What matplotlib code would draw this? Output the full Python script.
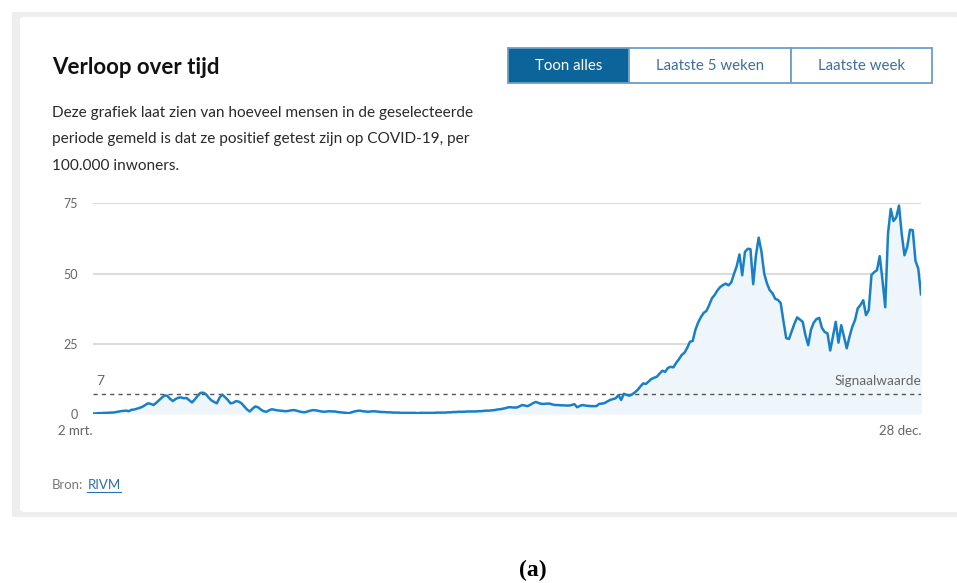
import numpy as np
import matplotlib
matplotlib.use("Agg")
import matplotlib.pyplot as plt
from matplotlib.patches import FancyBboxPatch, Rectangle
from matplotlib.lines import Line2D

W, H = 957, 583

# positief geteste mensen per 100.000 inwoners, per dag (2 mrt. t/m 28 dec.)
maart = [0.2, 0.2, 0.3, 0.3, 0.4, 0.4, 0.5, 0.5, 0.6, 0.8, 1.0, 1.1, 1.2, 1.0, 1.5,
         1.6, 1.9, 2.2, 2.6, 3.2, 3.8, 3.6, 3.2, 4.0, 4.9, 5.8, 6.6, 6.5, 5.4, 4.6]
april = [5.3, 5.8, 5.9, 5.6, 5.7, 4.9, 4.1, 5.2, 6.4, 7.5, 7.6, 7.1, 5.9, 4.9, 4.3,
         3.8, 5.8, 6.9, 6.0, 5.0, 3.8, 4.0, 4.6, 4.4, 3.8, 2.7, 1.6, 0.9, 1.9, 2.7]
mei = [2.4, 1.6, 1.0, 0.8, 1.3, 1.7, 1.5, 1.3, 1.2, 1.1, 1.0, 1.1, 1.3, 1.4, 1.2, 0.9,
       0.7, 0.6, 0.9, 1.2, 1.4, 1.3, 1.1, 0.9, 0.8, 0.9, 1.0, 0.9, 0.9, 0.7, 0.6]
juni = [0.5, 0.4, 0.3, 0.6, 0.9, 1.1, 1.2, 1.0, 0.9, 0.8, 0.9, 1.0, 0.9, 0.8, 0.7,
        0.7, 0.6, 0.6, 0.5, 0.5, 0.5, 0.4, 0.4, 0.4, 0.4, 0.4, 0.4, 0.3, 0.4, 0.4]
juli = [0.4, 0.4, 0.4, 0.4, 0.5, 0.5, 0.5, 0.5, 0.6, 0.6, 0.7, 0.7, 0.8, 0.8, 0.8, 0.9,
        0.9, 0.9, 0.9, 1.0, 1.0, 1.1, 1.2, 1.2, 1.3, 1.4, 1.6, 1.7, 1.9, 2.1, 2.4]
augustus = [2.4, 2.3, 2.3, 2.7, 3.2, 3.0, 2.8, 3.3, 3.9, 4.3, 3.9, 3.6, 3.6, 3.7, 3.7,
            3.4, 3.2, 3.2, 3.1, 3.1, 3.0, 3.0, 3.2, 3.5, 2.4, 2.9, 3.2, 3.0, 2.9, 2.8, 2.8]
september = [2.8, 3.6, 3.7, 3.9, 4.5, 5.0, 5.3, 5.6, 6.7, 5.0, 7.2, 6.8, 6.5, 7.0, 7.7,
             8.6, 9.8, 10.9, 10.7, 11.6, 12.5, 12.9, 13.3, 14.4, 15.4, 15.0, 16.4, 16.8, 16.6, 18.2]
oktober = [19.5, 21.0, 21.8, 23.5, 25.7, 26.0, 30.0, 32.6, 34.5, 36.0, 36.7, 38.8, 41.2,
           42.4, 44.0, 45.2, 45.9, 46.4, 45.8, 46.8, 49.8, 52.6, 56.8, 49.4, 57.7, 58.8,
           58.7, 46.2, 56.5, 62.8, 57.8]
november = [50.0, 46.5, 44.1, 43.0, 41.0, 40.6, 39.5, 33.0, 27.0, 26.7, 29.5, 32.2, 34.4,
            33.6, 32.8, 28.0, 24.5, 30.0, 32.5, 33.8, 34.2, 30.6, 29.2, 28.7, 22.6, 27.6,
            32.8, 25.4, 31.6, 27.5]
december = [23.4, 27.5, 31.0, 33.4, 37.6, 38.8, 40.5, 35.2, 37.0, 49.5, 50.5, 51.2, 56.2,
            47.6, 38.0, 64.2, 73.0, 68.7, 70.0, 74.2, 64.0, 56.5, 59.5, 65.6, 65.4, 54.5,
            51.8, 42.6]

waarden = maart + april + mei + juni + juli + augustus + september + oktober + november + december
dagen = np.arange(len(waarden))

y_ticks = [0, 25, 50, 75]
signaalwaarde = 7
x_labels = ["2 mrt.", "28 dec."]
knoppen = ["Toon alles", "Laatste 5 weken", "Laatste week"]
beschrijving = ["Deze grafiek laat zien van hoeveel mensen in de geselecteerde",
                "periode gemeld is dat ze positief getest zijn op COVID-19, per",
                "100.000 inwoners."]

plt.rcParams['font.family'] = ['Lato', 'DejaVu Sans']

fig = plt.figure(figsize=(W / 100, H / 100), dpi=100)


def fx(px):
    return px / W


def fy(py):
    return 1 - py / H


# kaart met schaduwrand
fig.patches.append(Rectangle((fx(12), fy(517)), fx(960) - fx(12), fy(12) - fy(517),
                             transform=fig.transFigure, fc="#eeeeee", ec="none", zorder=-2))
fig.patches.append(FancyBboxPatch((fx(20), fy(512)), fx(960) - fx(20), fy(17) - fy(512),
                                  boxstyle="round,pad=0,rounding_size=0.005",
                                  transform=fig.transFigure, fc="white", ec="none", zorder=-1))

fig.text(fx(52), fy(68), "Verloop over tijd", fontsize=16, fontweight="bold",
         color="#111111", va="center")
for i, regel in enumerate(beschrijving):
    fig.text(fx(52), fy(113 + i * 26.5), regel, fontsize=11.1, color="#2a2a2a", va="center")

# knoppen
grenzen = [508, 629, 791, 932]
for i, label in enumerate(knoppen):
    x0, x1 = grenzen[i], grenzen[i + 1]
    actief = i == 0
    fig.patches.append(Rectangle((fx(x0), fy(83)), fx(x1) - fx(x0), fy(48) - fy(83),
                                 transform=fig.transFigure,
                                 fc="#0b659a" if actief else "white",
                                 ec="#6b9fc7", lw=1.3, zorder=1))
    fig.text(fx((x0 + x1) / 2), fy(66), label, fontsize=10.8,
             color="white" if actief else "#3d6f9c", ha="center", va="center", zorder=2)

ax = fig.add_axes([fx(93), fy(414), fx(921) - fx(93), fy(203.3) - fy(414)])
ax.set_zorder(5)
ax.set_facecolor("none")
ax.set_xlim(0, len(waarden) - 1)
ax.set_ylim(0, 75)
for t in y_ticks:
    ax.axhline(t, color="#dcdcdc", lw=1.5, zorder=0)
ax.fill_between(dagen, waarden, color="#eef5fb", lw=0, zorder=1)
ax.plot(dagen, waarden, color="#1a80c6", lw=1.8, solid_joinstyle="round", zorder=3)
ax.axhline(signaalwaarde, color="#555555", lw=1, ls=(0, (3, 3)), zorder=2)

for s in ax.spines.values():
    s.set_visible(False)
ax.set_yticks(y_ticks)
ax.set_yticklabels([str(t) for t in y_ticks])
ax.set_xticks([0, len(waarden) - 1])
ax.set_xticklabels(x_labels)
for lab in ax.get_xticklabels():
    lab.set_horizontalalignment("right")
ax.tick_params(axis="y", length=0, pad=11, labelsize=9, labelcolor="#666666")
ax.tick_params(axis="x", length=0, pad=8, labelsize=9.5, labelcolor="#666666")
ax.get_xticklabels()[0].set_x(1.5)

ax.annotate(str(signaalwaarde), (0, signaalwaarde), xytext=(2, 5), textcoords="offset points",
            fontsize=10, color="#666666", ha="left", va="bottom")
ax.annotate("Signaalwaarde", (len(waarden) - 1, signaalwaarde), xytext=(0, 5),
            textcoords="offset points", fontsize=9.8, color="#666666", ha="right", va="bottom")

# bron
bron = fig.text(fx(52), fy(485), "Bron:", fontsize=9.5, color="#777777", va="center")
fig.canvas.draw()
bb = bron.get_window_extent()
rivm = fig.text((bb.x1 + 4) / W, fy(485), "RIVM", fontsize=9.5, color="#2f6fa6", va="center")
fig.canvas.draw()
rb = rivm.get_window_extent()
fig.lines.append(Line2D([rb.x0 / W, rb.x1 / W], [fy(492), fy(492)], transform=fig.transFigure,
                        color="#2f6fa6", lw=0.8))

fig.text(fx(533), fy(570), "(a)", fontsize=17, fontweight="bold", family="Liberation Serif",
         ha="center", va="center", color="black")

fig.savefig("out.png", dpi=100, facecolor="white")
